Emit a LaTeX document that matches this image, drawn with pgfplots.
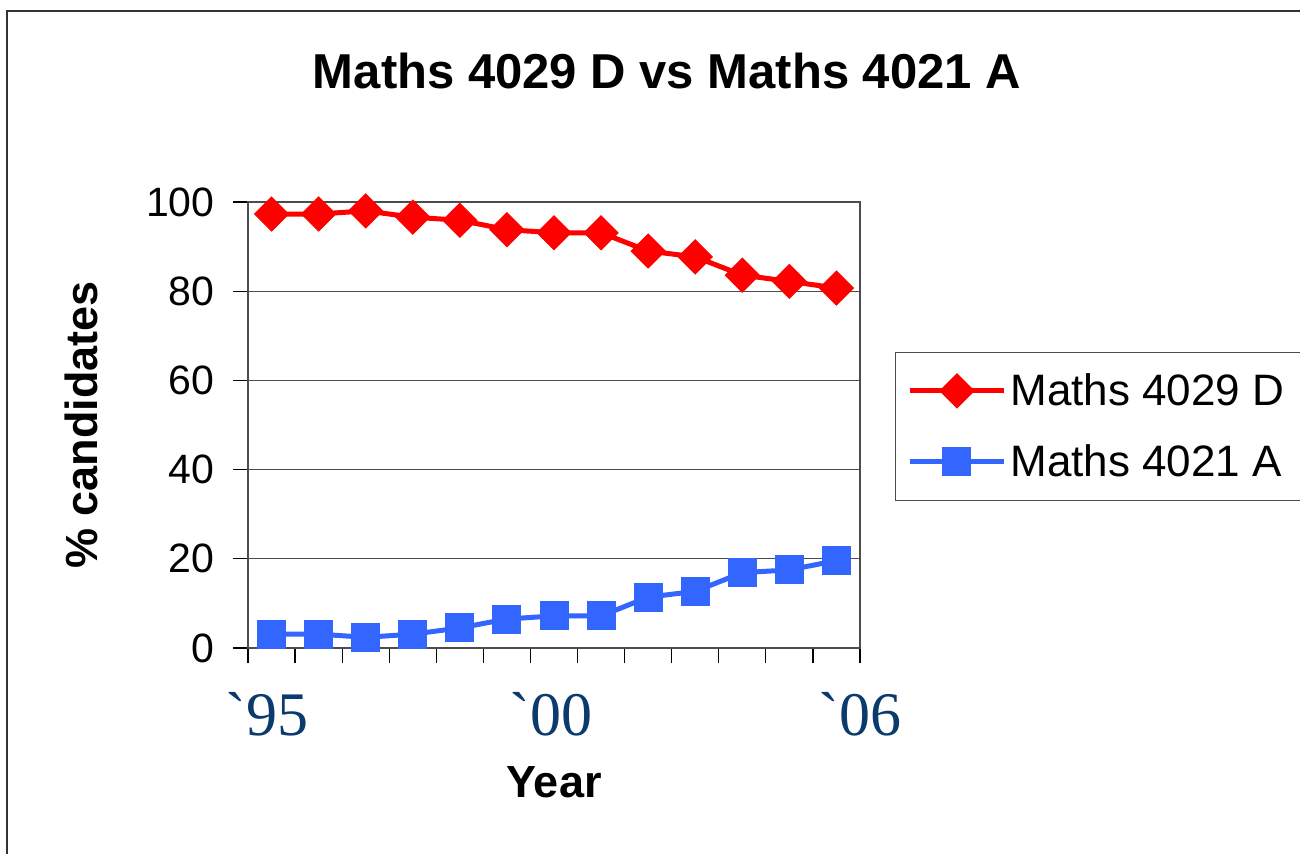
\documentclass[border=0pt]{standalone}
\usepackage{fontspec}
\setmainfont{Liberation Sans}
\newfontfamily\timesfont{Liberation Serif}[Ligatures=TeXOff]
\usepackage{pgfplots}
\pgfplotsset{compat=1.18}
\definecolor{redS}{HTML}{FF0000}
\definecolor{blueS}{HTML}{3366FF}
\definecolor{navy}{HTML}{0B3A6C}
\begin{document}
\begin{tikzpicture}[x=0.5pt,y=0.5pt]
\useasboundingbox (0,0) rectangle (1300,-854);
\draw[line width=1.2pt, black!80] (7,-900) -- (7,-11) -- (1400,-11);
\node[font=\bfseries\fontsize{24.5}{29}\selectfont] at (667,-71) {Maths 4029 D vs Maths 4021 A};
\begin{axis}[
  at={(124pt,-324pt)}, anchor=south west,
  scale only axis, width=306pt, height=223pt,
  xmin=0.5, xmax=13.5, ymin=0, ymax=100,
  xtick={0.5,1.5,...,13.5}, xticklabels={},
  extra x ticks={0.9,6.93,13.5},
  extra x tick labels={{\char"60 95},{\char"60 00},{\char"60 06}},
  extra x tick style={major tick length=0pt, grid=none,
    tick label style={font=\timesfont\fontsize{31}{36}\selectfont, text=navy, anchor=north, inner sep=0pt, yshift=-22pt}},
  ytick={0,20,...,100},
  /pgf/number format/assume math mode=true,
  yticklabel style={font=\fontsize{20.5}{25}\selectfont, anchor=east, inner sep=0pt, xshift=-9pt},
  ymajorgrids, grid style={black!70, line width=0.6pt},
  tick align=outside, tick pos=left, major tick length=7.5pt,
  tick style={black, line width=0.6pt},
  axis line style={black!70, line width=0.6pt},
  ylabel={\% candidates},
  ylabel style={font=\bfseries\fontsize{22.5}{27}\selectfont, at={(axis description cs:-0.273,0.5)}, anchor=center},
  xlabel={Year},
  xlabel style={font=\bfseries\fontsize{22.5}{27}\selectfont, at={(axis description cs:0.5,-0.30)}, anchor=center},
  legend style={at={(1.057,0.664)}, anchor=north west, draw=black!70, line width=0.6pt,
    font=\fontsize{22}{26}\selectfont, inner xsep=6pt, inner ysep=8.5pt, row sep=14pt},
  legend cell align=left,
  legend image code/.code={\draw[mark repeat=2,mark phase=2,#1] plot coordinates {(0pt,0pt) (23.5pt,0pt) (47pt,0pt)};},
]
\addplot[redS, line width=2.5pt, mark=square*, mark size=6pt, mark options={rotate=45, solid, line width=0.5pt}]
coordinates {(1,97.3) (2,97.3) (3,98.0) (4,96.6) (5,95.9) (6,93.8) (7,93.1) (8,93.1) (9,89.0) (10,87.7) (11,83.6) (12,82.2) (13,80.7)};
\addlegendentry{Maths 4029 D}
\addplot[blueS, line width=2.5pt, mark=square*, mark size=7pt, mark options={solid, line width=0.5pt}]
coordinates {(1,3.1) (2,3.1) (3,2.4) (4,3.1) (5,4.5) (6,6.5) (7,7.2) (8,7.2) (9,11.4) (10,12.7) (11,16.9) (12,17.5) (13,19.6)};
\addlegendentry{Maths 4021 A}
\end{axis}
\end{tikzpicture}
\end{document}
